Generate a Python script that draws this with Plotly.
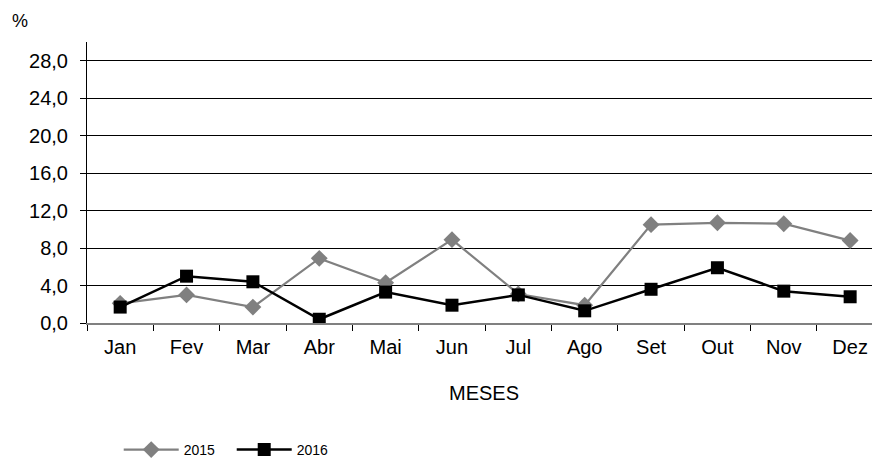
import plotly.graph_objects as go

months = ["Jan", "Fev", "Mar", "Abr", "Mai", "Jun", "Jul", "Ago", "Set", "Out", "Nov", "Dez"]
v2015 = [2.1, 3.0, 1.7, 6.9, 4.3, 8.9, 3.1, 1.9, 10.5, 10.7, 10.6, 8.8]
v2016 = [1.7, 5.0, 4.4, 0.4, 3.3, 1.9, 3.0, 1.3, 3.6, 5.9, 3.4, 2.8]
yticks = [0, 4, 8, 12, 16, 20, 24, 28]
ytick_labels = ["0,0", "4,0", "8,0", "12,0", "16,0", "20,0", "24,0", "28,0"]

FONT = "Liberation Sans, Arial, sans-serif"

fig = go.Figure()
fig.add_trace(go.Scatter(
    x=months, y=v2015, name="2015", mode="lines+markers",
    line=dict(color="#808080", width=2.2),
    marker=dict(symbol="diamond", size=13, color="#808080"),
))
fig.add_trace(go.Scatter(
    x=months, y=v2016, name="2016", mode="lines+markers",
    line=dict(color="#000000", width=2.5),
    marker=dict(symbol="square", size=13, color="#000000"),
))

# page body has an 8px margin, so the figure is offset by 8px
fig.update_layout(
    width=872, height=453,
    margin=dict(l=79, r=0, t=34, b=138, autoexpand=False),
    paper_bgcolor="white", plot_bgcolor="white",
    font=dict(family=FONT, size=20, color="#000000"),
    showlegend=True,
    legend=dict(
        orientation="h", x=0.04, y=-0.452, xanchor="left", yanchor="middle",
        font=dict(size=14, family=FONT), bgcolor="rgba(0,0,0,0)",
        itemwidth=55, entrywidth=43, entrywidthmode="pixels", tracegroupgap=0,
    ),
    annotations=[
        dict(text="%", x=-0.085, y=1.075, xref="paper", yref="paper",
             showarrow=False, xanchor="center", yanchor="middle",
             font=dict(size=18, family=FONT)),
        dict(text="MESES", x=0.5, y=-0.25, xref="paper", yref="paper",
             showarrow=False, xanchor="center", yanchor="middle",
             font=dict(size=20, family=FONT)),
    ],
    xaxis=dict(
        type="category", range=[-0.5, 11.45],
        showgrid=False, zeroline=False,
        showline=True, linecolor="#808080", linewidth=1.5,
        ticks="outside", tickson="boundaries", ticklen=6, tickcolor="#000000",
        ticklabelstandoff=5,
        tickfont=dict(size=20, family=FONT),
    ),
    yaxis=dict(
        range=[0, 30], tickvals=yticks, ticktext=ytick_labels,
        showgrid=True, gridcolor="#000000", gridwidth=1,
        zeroline=False,
        showline=True, linecolor="#000000", linewidth=1,
        ticks="outside", ticklen=6, tickcolor="#000000",
        ticklabelstandoff=8,
        tickfont=dict(size=20, family=FONT),
    ),
)

fig.write_html("out.html")
